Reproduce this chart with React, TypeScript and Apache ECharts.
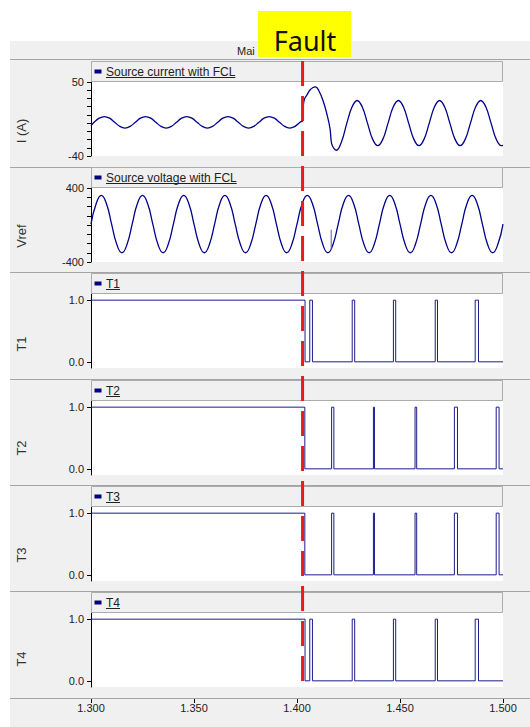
import React, { useEffect, useRef } from "react";
import * as echarts from "echarts";

// ---------- data ----------
const X_MIN = 1.3;
const X_MAX = 1.5;
const X_TICKS = [1.3, 1.35, 1.4, 1.45, 1.5];
const FAULT_TIME = 1.4027;

const seriesNames = ["Source current with FCL", "Source voltage with FCL", "T1", "T2", "T3", "T4"];
const axisNames = ["I (A)", "Vref", "T1", "T2", "T3", "T4"];

const currentData: number[][] = [
  [1.3, -3],
  [1.3015, 1], [1.304, 6], [1.3065, 8], [1.309, 6], [1.3115, 1], [1.314, -4], [1.3165, -6], [1.319, -4],
  [1.3215, 1], [1.324, 6], [1.3265, 8], [1.329, 6], [1.3315, 1], [1.334, -4], [1.3365, -6], [1.339, -4],
  [1.3415, 1], [1.344, 6], [1.3465, 8], [1.349, 6], [1.3515, 1], [1.354, -4], [1.3565, -6], [1.359, -4],
  [1.3615, 1], [1.364, 6], [1.3665, 8], [1.369, 6], [1.3715, 1], [1.374, -4], [1.3765, -6], [1.379, -4],
  [1.3815, 1], [1.384, 6], [1.3865, 8], [1.389, 6], [1.3915, 1], [1.394, -4], [1.3965, -6], [1.399, -4],
  [1.4015, 1], [1.4027, 3],
  [1.403, 20], [1.4036, 29], [1.405, 35], [1.4062, 40], [1.4076, 43], [1.409, 44], [1.4105, 40],
  [1.4127, 27], [1.4144, 12], [1.416, -6], [1.4168, -25], [1.418, -31], [1.4192, -33],
  [1.4217, -22], [1.4242, 0], [1.4267, 19.5], [1.4292, 27.5], [1.4317, 19.5], [1.4342, 0], [1.4367, -19.5], [1.4392, -27.5],
  [1.4417, -19.5], [1.4442, 0], [1.4467, 19.5], [1.4492, 27.5], [1.4517, 19.5], [1.4542, 0], [1.4567, -19.5], [1.4592, -27.5],
  [1.4617, -19.5], [1.4642, 0], [1.4667, 19.5], [1.4692, 27.5], [1.4717, 19.5], [1.4742, 0], [1.4767, -19.5], [1.4792, -27.5],
  [1.4817, -19.5], [1.4842, 0], [1.4867, 19.5], [1.4892, 27.5], [1.4917, 19.5], [1.4942, 0], [1.4967, -19.5], [1.4992, -27.5],
  [1.5, -27],
];

const voltageData: number[][] = [
  [1.3, 10], [1.3025, 229], [1.305, 320], [1.3075, 229], [1.31, 10], [1.3125, -209], [1.315, -300], [1.3175, -209],
  [1.32, 10], [1.3225, 229], [1.325, 320], [1.3275, 229], [1.33, 10], [1.3325, -209], [1.335, -300], [1.3375, -209],
  [1.34, 10], [1.3425, 229], [1.345, 320], [1.3475, 229], [1.35, 10], [1.3525, -209], [1.355, -300], [1.3575, -209],
  [1.36, 10], [1.3625, 229], [1.365, 320], [1.3675, 229], [1.37, 10], [1.3725, -209], [1.375, -300], [1.3775, -209],
  [1.38, 10], [1.3825, 229], [1.385, 320], [1.3875, 229], [1.39, 10], [1.3925, -209], [1.395, -300], [1.3975, -209],
  [1.4, 10], [1.4025, 229], [1.405, 320], [1.4075, 229], [1.41, 10], [1.4125, -209], [1.415, -300], [1.4175, -209],
  [1.42, 10], [1.4225, 229], [1.425, 320], [1.4275, 229], [1.43, 10], [1.4325, -209], [1.435, -300], [1.4375, -209],
  [1.44, 10], [1.4425, 229], [1.445, 320], [1.4475, 229], [1.45, 10], [1.4525, -209], [1.455, -300], [1.4575, -209],
  [1.46, 10], [1.4625, 229], [1.465, 320], [1.4675, 229], [1.47, 10], [1.4725, -209], [1.475, -300], [1.4775, -209],
  [1.48, 10], [1.4825, 229], [1.485, 320], [1.4875, 229], [1.49, 10], [1.4925, -209], [1.495, -300], [1.4975, -209],
  [1.5, 10],
];
const voltageSpike: number[][] = [[1.4166, -262], [1.4166, -52]];

const t1Data: number[][] = [
  [1.3, 1], [1.4039, 1], [1.4039, 0], [1.4062, 0], [1.4062, 1], [1.4075, 1], [1.4075, 0],
  [1.4268, 0], [1.4268, 1], [1.428, 1], [1.428, 0], [1.4468, 0], [1.4468, 1], [1.4479, 1], [1.4479, 0],
  [1.4671, 0], [1.4671, 1], [1.4682, 1], [1.4682, 0], [1.4865, 0], [1.4865, 1], [1.4881, 1], [1.4881, 0], [1.5, 0],
];
const t2Data: number[][] = [
  [1.3, 1], [1.4038, 1], [1.4038, 0], [1.4168, 0], [1.4168, 1], [1.4179, 1], [1.4179, 0],
  [1.4371, 0], [1.4371, 1], [1.4376, 1], [1.4376, 0], [1.4573, 0], [1.4573, 1], [1.4581, 1], [1.4581, 0],
  [1.4764, 0], [1.4764, 1], [1.4779, 1], [1.4779, 0], [1.4967, 0], [1.4967, 1], [1.4981, 1], [1.4981, 0], [1.5, 0],
];
const t3Data: number[][] = [
  [1.3, 1], [1.4038, 1], [1.4038, 0], [1.4168, 0], [1.4168, 1], [1.4179, 1], [1.4179, 0],
  [1.4371, 0], [1.4371, 1], [1.4376, 1], [1.4376, 0], [1.4573, 0], [1.4573, 1], [1.4581, 1], [1.4581, 0],
  [1.4764, 0], [1.4764, 1], [1.4779, 1], [1.4779, 0], [1.4967, 0], [1.4967, 1], [1.4981, 1], [1.4981, 0], [1.5, 0],
];
const t4Data: number[][] = [
  [1.3, 1], [1.4039, 1], [1.4039, 0], [1.4062, 0], [1.4062, 1], [1.4075, 1], [1.4075, 0],
  [1.4268, 0], [1.4268, 1], [1.428, 1], [1.428, 0], [1.4468, 0], [1.4468, 1], [1.4479, 1], [1.4479, 0],
  [1.4671, 0], [1.4671, 1], [1.4682, 1], [1.4682, 0], [1.4865, 0], [1.4865, 1], [1.4881, 1], [1.4881, 0], [1.5, 0],
];

// ---------- layout ----------
const FONT = '"Liberation Sans", Arial, sans-serif';
const GRID_LEFT = 91;
const GRID_WIDTH = 412;
const GRID_H = 74;
const GRID_TOPS = [82, 188, 294, 401, 507, 613];
const SEP_Y = [59, 167, 272, 379, 485, 591, 698];
const NAME_Y = [131, 236, 344, 448, 555, 659];
const LINE_COLOR = "#00008b";
const STEP_COLOR = "#1c1c8e";

function measure(text: string, font: string): number {
  const c = document.createElement("canvas").getContext("2d");
  if (!c) return text.length * 6;
  c.font = font;
  return c.measureText(text).width;
}

function buildGraphics(faultX: number): any[] {
  const g: any[] = [];
  g.push({ type: "rect", silent: true, z: 1, shape: { x: 0, y: 0, width: 530, height: 41 }, style: { fill: "#ffffff" } });
  g.push({ type: "rect", silent: true, z: 1, shape: { x: 0, y: 0, width: 10, height: 727 }, style: { fill: "#ffffff" } });
  g.push({
    type: "text", z: 2, x: 237, y: 50.5,
    style: { text: "Mai", font: "11px " + FONT, fill: "#222", align: "left", verticalAlign: "middle", textAlign: "left", textVerticalAlign: "middle" },
  });
  SEP_Y.forEach((y) => {
    g.push({ type: "line", z: 2, silent: true, shape: { x1: 10, y1: y + 0.5, x2: 530, y2: y + 0.5 }, style: { stroke: "#a4a4a4", lineWidth: 1 } });
  });
  GRID_TOPS.forEach((top, i) => {
    g.push({
      type: "rect", z: 2, silent: true,
      shape: { x: GRID_LEFT + 0.5, y: top - 20.5, width: GRID_WIDTH - 1, height: 20 },
      style: { fill: "#f0f0f0", stroke: "#acacac", lineWidth: 1 },
    });
    g.push({ type: "rect", z: 3, silent: true, shape: { x: 94.5, y: top - 12.5, width: 7, height: 4 }, style: { fill: "#000080" } });
    const font = "12px " + FONT;
    g.push({
      type: "text", z: 3, x: 106, y: top - 10,
      style: { text: seriesNames[i], font, fill: "#222", align: "left", verticalAlign: "middle", textAlign: "left", textVerticalAlign: "middle" },
    });
    const w = measure(seriesNames[i], font);
    g.push({ type: "line", z: 3, silent: true, shape: { x1: 106, y1: top - 4.5, x2: 106 + w, y2: top - 4.5 }, style: { stroke: "#222", lineWidth: 1 } });
    g.push({
      type: "text", z: 3, x: 21, y: NAME_Y[i], rotation: Math.PI / 2,
      style: { text: axisNames[i], font: "13px " + FONT, fill: "#333", align: "center", verticalAlign: "middle", textAlign: "center", textVerticalAlign: "middle" },
    });
  });
  g.push({
    type: "line", z: 20, silent: true,
    shape: { x1: faultX, y1: 61, x2: faultX, y2: 688 },
    style: { stroke: "#ee1a1a", lineWidth: 3, lineDash: [25, 10] },
  });
  g.push({ type: "rect", z: 21, silent: true, shape: { x: 258, y: 11, width: 93, height: 46 }, style: { fill: "#ffff00" } });
  g.push({
    type: "text", z: 22, x: 305, y: 40,
    style: { text: "Fault", font: '27px "Noto Sans", sans-serif', fill: "#111", align: "center", verticalAlign: "middle", textAlign: "center", textVerticalAlign: "middle" },
  });
  return g;
}

function yAxisFor(i: number): any {
  const base: any = {
    type: "value", gridIndex: i,
    axisLine: { show: true, lineStyle: { color: "#000", width: 1 } },
    axisTick: { show: true, length: 4, lineStyle: { color: "#000" } },
    axisLabel: { fontSize: 11, color: "#222", margin: 7, fontFamily: FONT },
    splitLine: { show: false },
  };
  if (i === 0) {
    return { ...base, min: -40, max: 50, interval: 10, axisLabel: { ...base.axisLabel, formatter: (v: number) => (v === 50 || v === -40 ? String(v) : "") } };
  }
  if (i === 1) {
    return { ...base, min: -400, max: 400, interval: 100, axisLabel: { ...base.axisLabel, formatter: (v: number) => (v === 400 || v === -400 ? String(v) : "") } };
  }
  return {
    ...base, min: -0.1, max: 1.1,
    axisTick: { ...base.axisTick, customValues: [0, 1] },
    axisLabel: { ...base.axisLabel, customValues: [0, 1], formatter: (v: number) => v.toFixed(1) },
  };
}

export default function App() {
  const ref = useRef<HTMLDivElement>(null);
  useEffect(() => {
    if (!ref.current) return;
    const chart = echarts.init(ref.current, undefined, { renderer: "svg" });
    const grids: any[] = GRID_TOPS.map((top) => ({
      left: GRID_LEFT, width: GRID_WIDTH, top, height: GRID_H, show: true, backgroundColor: "#ffffff", borderWidth: 0,
    }));
    grids.push({ left: GRID_LEFT, width: GRID_WIDTH, top: 697, height: 1, show: false });

    const xAxes: any[] = GRID_TOPS.map((_, i) => ({ type: "value", gridIndex: i, min: X_MIN, max: X_MAX, show: false }));
    xAxes.push({
      type: "value", gridIndex: 6, min: X_MIN, max: X_MAX,
      axisLine: { show: true, lineStyle: { color: "#000" } },
      axisTick: { show: true, length: 5, customValues: X_TICKS, lineStyle: { color: "#000" } },
      axisLabel: { customValues: X_TICKS, formatter: (v: number) => v.toFixed(3), fontSize: 11, color: "#222", margin: 4, fontFamily: FONT },
      splitLine: { show: false },
    });
    const yAxes: any[] = GRID_TOPS.map((_, i) => yAxisFor(i));
    yAxes.push({ type: "value", gridIndex: 6, show: false });

    const lineSeries = (name: string, idx: number, data: number[][], color: string, width: number, smooth: any) => ({
      name, type: "line", xAxisIndex: idx, yAxisIndex: idx, data, showSymbol: false, symbol: "none", smooth,
      lineStyle: { color, width }, itemStyle: { color }, silent: true,
    });

    chart.setOption({
      animation: false,
      backgroundColor: "#f0f0f0",
      textStyle: { fontFamily: FONT },
      grid: grids,
      xAxis: xAxes,
      yAxis: yAxes,
      series: [
        lineSeries(seriesNames[0], 0, currentData, LINE_COLOR, 1.3, 0.4),
        lineSeries(seriesNames[1], 1, voltageData, LINE_COLOR, 1.3, 0.5),
        lineSeries("spike", 1, voltageSpike, "#5858b0", 1, false),
        lineSeries(seriesNames[2], 2, t1Data, STEP_COLOR, 1, false),
        lineSeries(seriesNames[3], 3, t2Data, STEP_COLOR, 1, false),
        lineSeries(seriesNames[4], 4, t3Data, STEP_COLOR, 1, false),
        lineSeries(seriesNames[5], 5, t4Data, STEP_COLOR, 1, false),
      ],
    });
    const fx = chart.convertToPixel({ xAxisIndex: 0 }, FAULT_TIME) as unknown as number;
    chart.setOption({ graphic: { elements: buildGraphics(fx) } });
    return () => chart.dispose();
  }, []);
  return <div ref={ref} style={{ position: "fixed", left: 0, top: 0, width: 530, height: 727 }} />;
}
